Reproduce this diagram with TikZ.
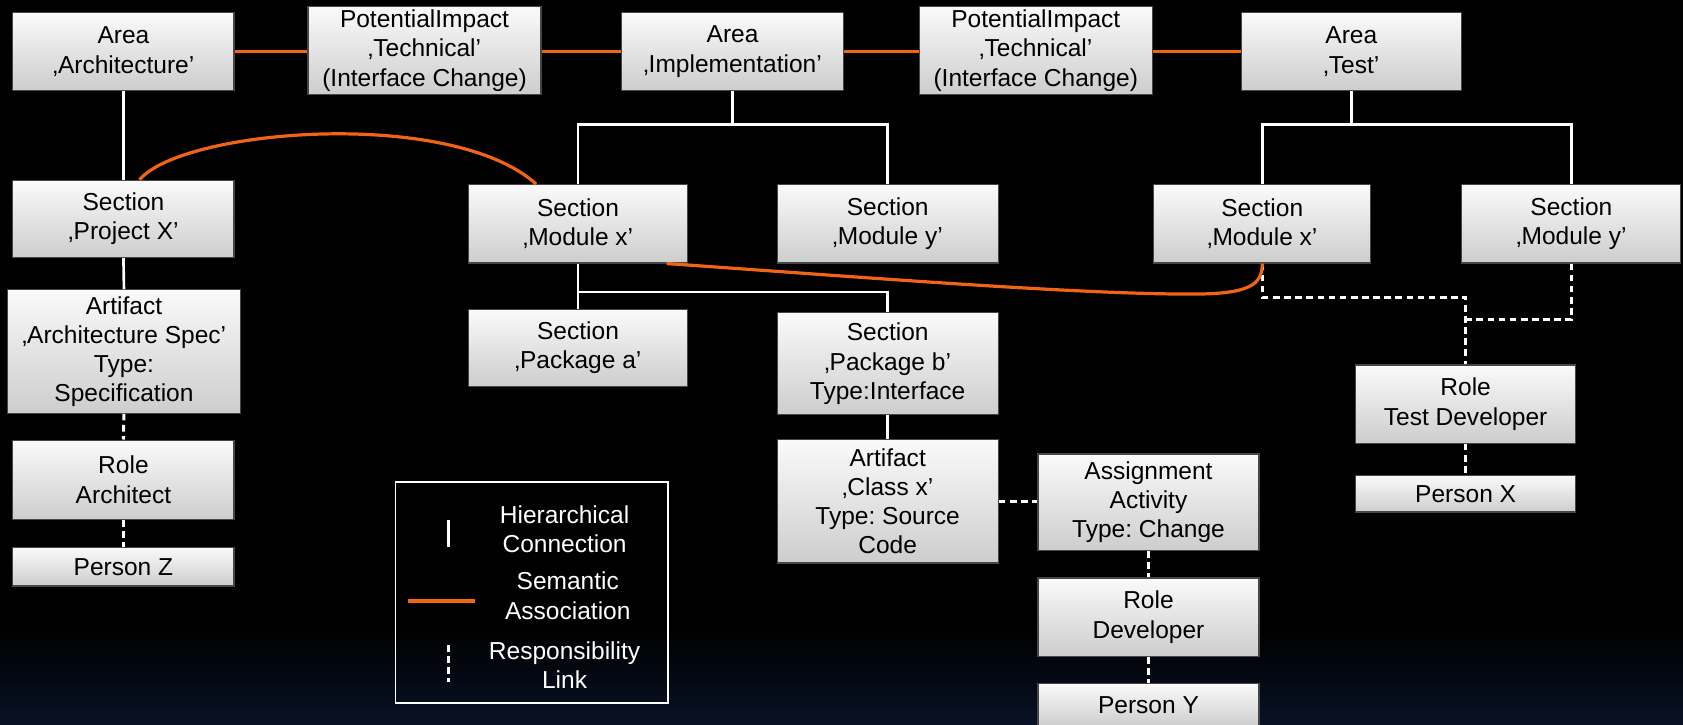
\documentclass[tikz,border=0pt]{standalone}
\usepackage{fontspec}
\setmainfont{Liberation Sans}
\usepackage{tikz}
\usetikzlibrary{backgrounds,calc,shapes}
\frenchspacing

\definecolor{assocOrange}{RGB}{240,100,20}
\definecolor{boxTop}{RGB}{250,250,250}
\definecolor{boxBottom}{RGB}{205,205,205}
\definecolor{boxEdge}{RGB}{70,70,70}
\definecolor{deepNavy}{RGB}{8,18,38}

\begin{document}
\begin{tikzpicture}[x=0.2mm,y=-0.2mm,
  every node/.style={inner sep=0,align=center,font=\fontsize{13}{15.5}\selectfont},
  box/.style 2 args={draw=boxEdge,line width=0.6pt,top color=boxTop,bottom color=boxBottom,
    minimum width=#1*0.2mm,minimum height=#2*0.2mm},
  hier/.style={white,line width=1.4pt},
  assoc/.style={assocOrange,line width=1.7pt},
  resp/.style={white,line width=1.6pt,dash pattern=on 3.5pt off 2.4pt},
  legendtext/.style={text=white}]
\path[use as bounding box,clip] (0,0) rectangle (1568,675);
\fill[black] (0,0) rectangle (1568,675);
\shade[top color=black,bottom color=deepNavy] (0,585) rectangle (1568,676);

\node[box={206}{72}] (areaArch) at (115,48) {Area\\‚Architecture’};
\node[box={217}{82}] (impactA) at (395.5,47) {PotentialImpact\\‚Technical’\\(Interface Change)};
\node[box={207}{72}] (areaImpl) at (682.5,48) {Area\\‚Implementation’};
\node[box={217}{82}] (impactB) at (965,47) {PotentialImpact\\‚Technical’\\(Interface Change)};
\node[box={205}{72}] (areaTest) at (1259,48) {Area\\‚Test’};

\node[box={206}{72}] (secProject) at (115,204) {Section\\‚Project X’};
\node[box={217}{115}] (artSpec) at (115.5,327.5) {Artifact\\‚Architecture Spec’\\Type:\\Specification};
\node[box={206}{74}] (roleArch) at (115,447) {Role\\Architect};
\node[box={206}{36}] (personZ) at (115,528) {Person Z};

\node[box={204}{73}] (secModX) at (538.5,208.5) {Section\\‚Module x’};
\node[box={206}{73}] (secModY) at (827,208.5) {Section\\‚Module y’};
\node[box={204}{72}] (secPkgA) at (538.5,324) {Section\\‚Package a’};
\node[box={206}{95}] (secPkgB) at (827,339) {Section\\‚Package b’\\Type:Interface};
\node[box={206}{115}] (artClass) at (827,467) {Artifact\\‚Class x’\\Type: Source\\Code};
\node[box={206}{90}] (assignAct) at (1070,468) {Assignment\\Activity\\Type: Change};
\node[box={206}{73}] (roleDev) at (1070,575) {Role\\Developer};
\node[box={206}{40}] (personY) at (1070,657) {Person Y};

\node[box={202}{73}] (secTestX) at (1176,208.5) {Section\\‚Module x’};
\node[box={204}{73}] (secTestY) at (1464,208.5) {Section\\‚Module y’};
\node[box={205}{73}] (roleTest) at (1365.5,376.5) {Role\\Test Developer};
\node[box={205}{34}] (personX) at (1365.5,460) {Person X};

\coordinate (implFork) at (682.5,116);
\coordinate (pkgFork) at (538.5,272);
\coordinate (testFork) at (1259,116);
\coordinate (respFork) at (1365.5,277);
\coordinate (respJoin) at (1365.5,298);

\draw[assoc] (areaArch.east) -- (areaArch.east -| impactA.west);
\draw[assoc] (areaImpl.west -| impactA.east) -- (areaImpl.west);
\draw[assoc] (areaImpl.east) -- (areaImpl.east -| impactB.west);
\draw[assoc] (areaTest.west -| impactB.east) -- (areaTest.west);

\draw[hier] (areaArch.south) -- (secProject.north);
\draw[hier] (secProject.south) -- (artSpec.north);
\draw[hier] (areaImpl.south) -- (implFork) -| (secModX.north);
\draw[hier] (implFork) -| (secModY.north);
\draw[hier] (secModX.south) -- (secPkgA.north);
\draw[hier] (pkgFork) -| (secPkgB.north);
\draw[hier] (secPkgB.south) -- (artClass.north);
\draw[hier] (areaTest.south) -- (testFork) -| (secTestX.north);
\draw[hier] (testFork) -| (secTestY.north);

\draw[resp] (artSpec.south) -- (roleArch.north);
\draw[resp] (roleArch.south) -- (personZ.north);
\draw[resp] (artClass.east) -- (artClass.east -| assignAct.west);
\draw[resp] (assignAct.south) -- (roleDev.north);
\draw[resp] (roleDev.south) -- (personY.north);
\draw[resp] (secTestX.south) |- (respFork) -- (roleTest.north);
\draw[resp] (secTestY.south) |- (respJoin);
\draw[resp] (roleTest.south) -- (personX.north);

\draw[assoc] ($(secProject.north)+(15,0)$) .. controls (170,120) and (420,100) .. ($(secModX.north)+(-39,0)$);
\draw[assoc] ($(secModX.south east)+(-20,0)$) .. controls (800,258) and (1000,274) .. (1110,274)
  .. controls (1165,274) and (1176,265) .. (secTestX.south);

\node[draw=white,line width=0.9pt,minimum width=254*0.2mm,minimum height=206*0.2mm] (legendBox) at (495.5,552) {};
\node[legendtext] (hierLabel) at (526,493) {Hierarchical\\Connection};
\node[legendtext] (assocLabel) at (529,555) {Semantic\\Association};
\node[legendtext] (respLabel) at (526,620) {Responsibility\\Link};
\coordinate (hierTop) at (418,484);
\coordinate (hierBot) at (418,510);
\coordinate (assocLeft) at (380,560);
\coordinate (assocRight) at (443,560);
\coordinate (respTop) at (418,601);
\coordinate (respBot) at (418,635);
\draw[hier] (hierTop) -- (hierBot);
\draw[assoc] (assocLeft) -- (assocRight);
\draw[resp] (respTop) -- (respBot);
\end{tikzpicture}
\end{document}
